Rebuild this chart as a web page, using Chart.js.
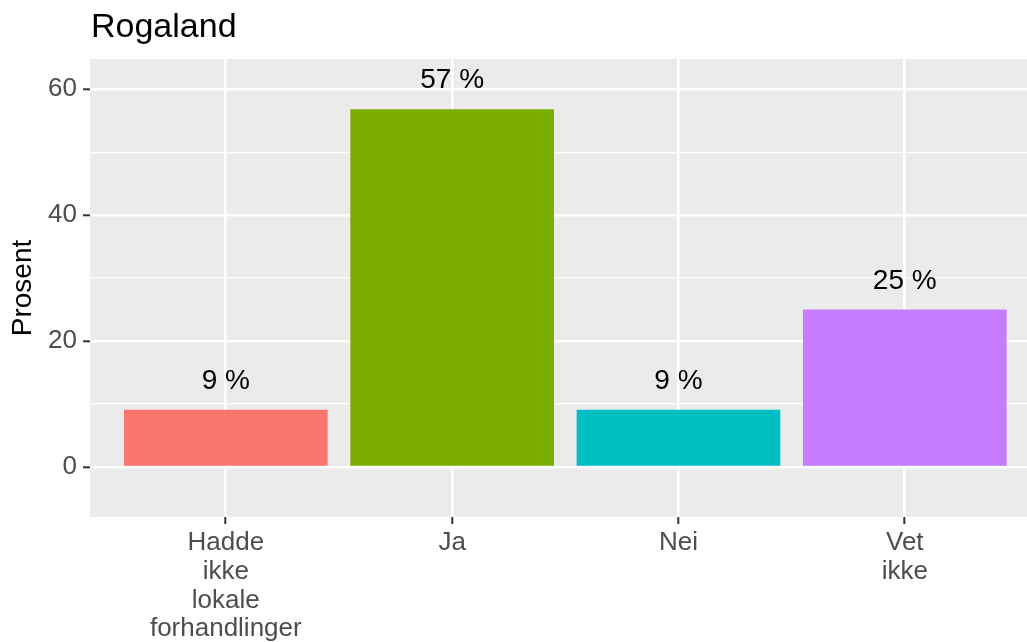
<!DOCTYPE html>
<html>
<head>
<meta charset="utf-8">
<title>Rogaland</title>
<script src="https://cdn.jsdelivr.net/npm/chart.js@4"></script>
<style>
  body { margin: 0; background: #fff; }
  #wrap { width: 1027px; height: 642px; position: relative; }
</style>
</head>
<body>
<div id="wrap"><canvas id="chart"></canvas></div>
<script>
// Data
const chartTitle = "Rogaland";
const yTitle = "Prosent";
const categories = [["Hadde", "ikke", "lokale", "forhandlinger"], ["Ja"], ["Nei"], ["Vet", "ikke"]];
const values = [9.09, 56.82, 9.09, 25.0];
const barColors = ["#F8766D", "#7CAE00", "#00BFC4", "#C77CFF"];
const yTicks = [0, 10, 20, 30, 40, 50, 60];
const yLabelTicks = [0, 20, 40, 60];

const FONT = "'Liberation Sans', Arial, Helvetica, sans-serif";

// Grey panel behind the plot
const panelBg = {
  id: "panelBg",
  beforeDraw(chart) {
    const { ctx, chartArea: a } = chart;
    ctx.save();
    ctx.fillStyle = "#EBEBEB";
    ctx.fillRect(a.left, a.top, a.right - a.left, a.bottom - a.top);
    ctx.restore();
  },
};

// Value labels above bars + main title
const textLayer = {
  id: "textLayer",
  afterDatasetsDraw(chart) {
    const ctx = chart.ctx;
    const meta = chart.getDatasetMeta(0);
    ctx.save();
    ctx.fillStyle = "#000";
    ctx.font = "28px " + FONT;
    ctx.textAlign = "center";
    ctx.textBaseline = "alphabetic";
    meta.data.forEach((bar, i) => {
      ctx.fillText(Math.round(values[i]) + " %", bar.x, bar.y - 21);
    });
    ctx.font = "34px " + FONT;
    ctx.textAlign = "left";
    ctx.fillText(chartTitle, 91, 37);
    ctx.restore();
  },
};

new Chart(document.getElementById("chart"), {
  type: "bar",
  data: {
    datasets: [
      {
        data: values.map((v, i) => ({ x: i + 1, y: v })),
        backgroundColor: barColors,
        borderWidth: 0,
        barPercentage: 0.9,
        categoryPercentage: 1,
      },
    ],
  },
  options: {
    responsive: true,
    maintainAspectRatio: false,
    animation: false,
    layout: { padding: { top: 59, right: 0, bottom: 0, left: 0 } },
    plugins: {
      legend: { display: false },
      tooltip: { enabled: false },
    },
    scales: {
      x: {
        type: "linear",
        offset: false,
        min: 0.4,
        max: 4.54,
        afterBuildTicks: (s) => {
          s.ticks = categories.map((c, i) => ({ value: i + 1 }));
        },
        afterFit: (s) => {
          s.height = 125;
        },
        ticks: {
          callback: (v) => categories[Math.round(v) - 1],
          color: "#4D4D4D",
          font: { family: FONT, size: 26, lineHeight: 1.1 },
          padding: 5,
          maxRotation: 0,
          autoSkip: false,
        },
        grid: {
          offset: false,
          color: "#FFFFFF",
          lineWidth: 2.6,
          tickLength: 7,
          tickColor: "#333333",
          tickWidth: 2,
        },
        border: { display: false },
      },
      y: {
        min: -7.95,
        max: 64.8,
        afterBuildTicks: (s) => {
          s.ticks = yTicks.map((v) => ({ value: v }));
        },
        afterFit: (s) => {
          s.width = 90;
        },
        ticks: {
          callback: (v) => (yLabelTicks.includes(v) ? String(v) : ""),
          color: "#4D4D4D",
          font: { family: FONT, size: 26 },
          padding: 6,
        },
        grid: {
          color: "#FFFFFF",
          lineWidth: (c) => (c.tick && yLabelTicks.includes(c.tick.value) ? 2.6 : 1.3),
          tickLength: 7,
          tickColor: (c) => (c.tick && yLabelTicks.includes(c.tick.value) ? "#333333" : "rgba(0,0,0,0)"),
          tickWidth: 2,
        },
        border: { display: false },
        title: {
          display: true,
          text: yTitle,
          color: "#000",
          font: { family: FONT, size: 28 },
          padding: { top: 6, bottom: 0 },
        },
      },
    },
  },
  plugins: [panelBg, textLayer],
});
</script>
</body>
</html>
